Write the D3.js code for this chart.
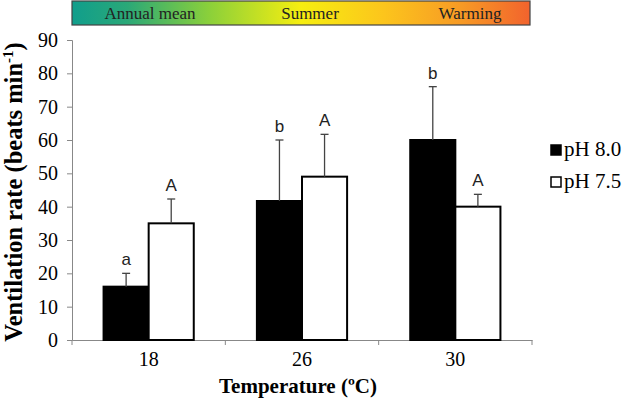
<!DOCTYPE html>
<html><head><meta charset="utf-8">
<script src="https://cdn.jsdelivr.net/npm/d3@7"></script>
<style>body{margin:0;background:#fff}</style>
</head><body>
<svg id="c" width="628" height="404"></svg>
<script>
const categories = ["18", "26", "30"];
const seriesNames = ["pH 8.0", "pH 7.5"];
const ph80 = [16, 41.7, 60];
const ph75 = [35, 49, 40];
const ph80Err = [4, 18.3, 16];
const ph75Err = [7.3, 12.7, 3.7];
const ph80Letters = ["a", "b", "b"];
const ph75Letters = ["A", "A", "A"];
const yTicks = [0,10,20,30,40,50,60,70,80,90];
const bandLabels = ["Annual mean", "Summer", "Warming"];

const svg = d3.select("#c");
const L = 72, R = 539, T = 40, B = 340;
const serif = "'Liberation Serif','Times New Roman',serif";
const sans = "'Liberation Sans',Arial,sans-serif";

const x0 = d3.scaleBand().domain(categories).range([L, R - 7]).paddingInner(0).paddingOuter(0);
const x1 = d3.scaleBand().domain(seriesNames).range([0, x0.bandwidth()]).paddingInner(0).paddingOuter(0.7);
const y = d3.scaleLinear().domain([0, 90]).range([B, T]);

// gradient band
const defs = svg.append("defs");
const g = defs.append("linearGradient").attr("id","gr").attr("x1","0").attr("x2","1");
[[0,"#109e8c"],[0.12,"#2aa878"],[0.3,"#8bd03a"],[0.5,"#f6ee10"],[0.68,"#fcc51c"],[0.85,"#f79a25"],[1,"#f2632d"]]
  .forEach(([o,c]) => g.append("stop").attr("offset", o).attr("stop-color", c));
svg.append("rect").attr("x", 72).attr("y", 1).attr("width", 458).attr("height", 24)
  .attr("fill","url(#gr)").attr("stroke","#444").attr("stroke-width",1.2);
const bandX = d3.scalePoint().domain(bandLabels).range([150, 470]);
svg.selectAll(".bl").data(bandLabels).join("text")
  .attr("x", d => bandX(d)).attr("y", 19).attr("text-anchor","middle")
  .attr("font-family", serif).attr("font-size", 17).attr("fill","#222").text(d => d);

// axes
const yAxis = d3.axisLeft(y).tickValues(yTicks).tickSize(5).tickPadding(9);
const ya = svg.append("g").attr("transform", `translate(${L},0)`).call(yAxis);
ya.select(".domain").attr("stroke","#888");
ya.selectAll(".tick line").attr("stroke","#888");
ya.selectAll("text").attr("font-family", serif).attr("font-size", 20).attr("fill","#000");

const xAxis = d3.axisBottom(x0).tickSize(0).tickPadding(12);
const xa = svg.append("g").attr("transform", `translate(0,${B})`).call(xAxis);
xa.select(".domain").attr("stroke","#888");
xa.selectAll("text").attr("font-family", serif).attr("font-size", 20).attr("fill","#000");
const bounds = categories.map(c => x0(c)).concat([x0(categories[categories.length-1]) + x0.bandwidth()]);
xa.selectAll(".btick").data(bounds).join("line").attr("class","btick")
  .attr("x1", d => d).attr("x2", d => d).attr("y1", 0).attr("y2", 5).attr("stroke","#888");

// bars
const data = categories.map((c, i) => [
  {cat: c, s: seriesNames[0], v: ph80[i], e: ph80Err[i], l: ph80Letters[i], fill: "#000"},
  {cat: c, s: seriesNames[1], v: ph75[i], e: ph75Err[i], l: ph75Letters[i], fill: "#fff"}
]).flat();

const bw = x1.bandwidth();
svg.append("g").selectAll("rect").data(data).join("rect")
  .attr("x", d => x0(d.cat) + x1(d.s)).attr("y", d => y(d.v))
  .attr("width", bw).attr("height", d => y(0) - y(d.v))
  .attr("fill", d => d.fill).attr("stroke","#000").attr("stroke-width", 2);

// error bars
const eg = svg.append("g").attr("stroke","#444").attr("stroke-width",1.3);
data.forEach(d => {
  const cx = x0(d.cat) + x1(d.s) + bw/2;
  eg.append("line").attr("x1", cx).attr("x2", cx).attr("y1", y(d.v)).attr("y2", y(d.v + d.e));
  eg.append("line").attr("x1", cx-4).attr("x2", cx+4).attr("y1", y(d.v + d.e)).attr("y2", y(d.v + d.e));
});
svg.append("g").selectAll("text").data(data).join("text")
  .attr("x", d => x0(d.cat) + x1(d.s) + bw/2).attr("y", d => y(d.v + d.e) - 8)
  .attr("text-anchor","middle").attr("font-family", sans).attr("font-size", 17).attr("fill","#222")
  .text(d => d.l);

// axis titles
svg.append("text").attr("x", 298).attr("y", 393).attr("text-anchor","middle")
  .attr("font-family", serif).attr("font-weight","bold").attr("font-size", 21).text("Temperature (ºC)");
const yt = svg.append("text").attr("transform","translate(22,192) rotate(-90)").attr("text-anchor","middle")
  .attr("font-family", serif).attr("font-weight","bold").attr("font-size", 24.5);
yt.append("tspan").text("Ventilation rate (beats min");
yt.append("tspan").attr("font-size", 15).attr("dy", -9).text("-1");
yt.append("tspan").attr("dy", 9).text(")");

// legend
const lg = svg.append("g");
seriesNames.forEach((s, i) => {
  const yy = 150 + i * 32;
  lg.append("rect").attr("x", 551).attr("y", yy - 5).attr("width", 10).attr("height", 10)
    .attr("fill", i === 0 ? "#000" : "#fff").attr("stroke","#000").attr("stroke-width",1.5);
  lg.append("text").attr("x", 564).attr("y", yy + 6).attr("font-family", serif).attr("font-size", 21).text(s);
});
</script>
</body></html>
